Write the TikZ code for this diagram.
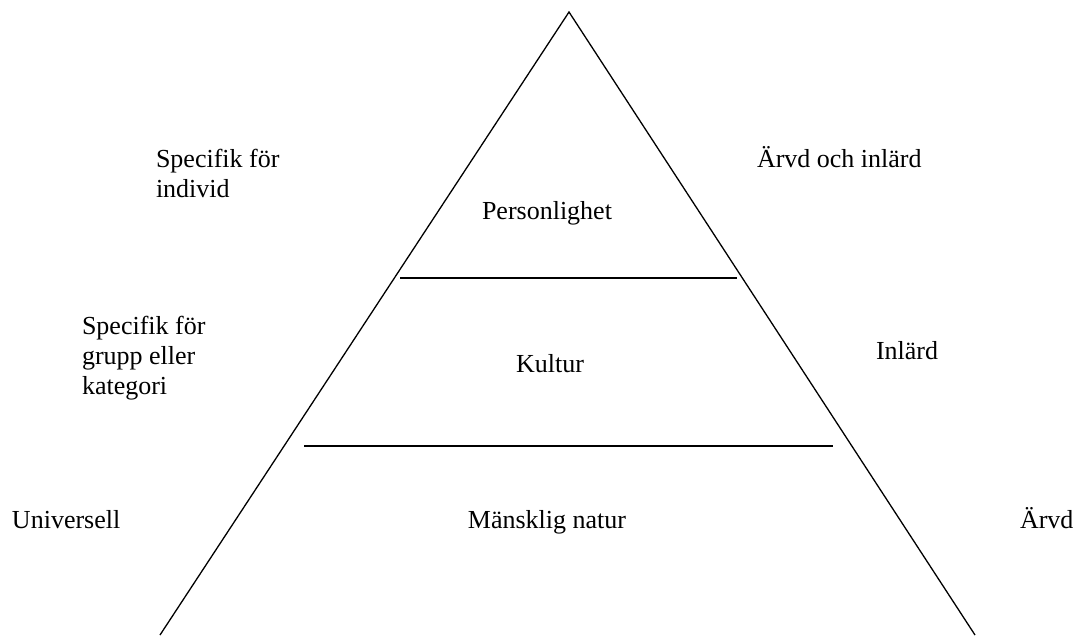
\documentclass[tikz,border=0pt]{standalone}
\usepackage{fontspec}
\setmainfont{Liberation Serif}
\begin{document}
\begin{tikzpicture}[x=1pt,y=-1pt,
  lbl/.style={inner sep=0pt,outer sep=0pt,anchor=base west,align=left,
    font=\fontsize{26}{30}\selectfont},
  mid/.style={inner sep=0pt,outer sep=0pt,anchor=base,
    font=\fontsize{26}{30}\selectfont},
  edge/.style={line width=1.3pt,line join=miter},
  layer/.style={line width=2pt}]
\useasboundingbox (0,0) rectangle (1078,635);
% triangle
\coordinate (apex) at (569,12);
\coordinate (bl) at (160,635);
\coordinate (br) at (975,635);
\draw[edge] (bl) -- (apex) -- (br);
% layer lines
\coordinate (u1) at (400,278);
\coordinate (u2) at (737,278);
\coordinate (l1) at (304,445.5);
\coordinate (l2) at (833,445.5);
\draw[layer] (u1) -- (u2);
\draw[layer] (l1) -- (l2);
% inside labels
\node[mid] (pers) at (547,219) {Personlighet};
\node[mid] (kult) at (550,372) {Kultur};
\node[mid] (mans) at (547,528) {Mänsklig natur};
% left labels (base anchor = last line)
\node[lbl] (indiv) at (156,197) {Specifik för\\individ};
\node[lbl] (grupp) at (82,394) {Specifik för\\grupp eller\\kategori};
\node[lbl] (univ) at (12,528) {Universell};
% right labels
\node[lbl] (arvinl) at (757,167) {Ärvd och inlärd};
\node[lbl] (inl) at (876,359) {Inlärd};
\node[lbl] (arvd) at (1020,528) {Ärvd};
\end{tikzpicture}
\end{document}
